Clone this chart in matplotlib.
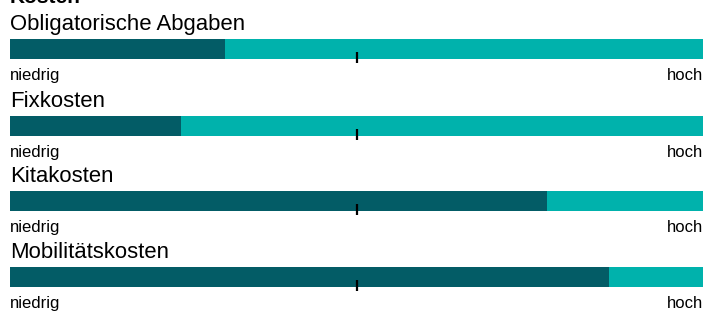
import matplotlib
matplotlib.use("Agg")
import matplotlib.pyplot as plt

plt.rcParams['font.family'] = ['Liberation Sans', 'DejaVu Sans']

title = "Kosten"
categories = ["Obligatorische Abgaben", "Fixkosten", "Kitakosten", "Mobilitätskosten"]
values = [0.31, 0.247, 0.775, 0.864]
medians = [0.5, 0.5, 0.5, 0.5]
low_label = "niedrig"
high_label = "hoch"

DARK = "#035c66"
LIGHT = "#00b2ac"

W, H = 704, 311
fig = plt.figure(figsize=(W / 100, H / 100), dpi=100)

bar_tops = [39, 116, 191, 267]
bar_h = 20
left_px, width_px = 10, 693

fig.text(left_px / W, 1 - 3 / H, title, fontsize=15, fontweight='bold',
         va='baseline', ha='left')

for cat, val, med, top in zip(categories, values, medians, bar_tops):
    ax = fig.add_axes([left_px / W, 1 - (top + bar_h) / H, width_px / W, bar_h / H])
    ax.set_xlim(0, 1)
    ax.set_ylim(0, 1)
    ax.axis('off')
    ax.barh(0.5, val, height=1, left=0, color=DARK, linewidth=0)
    ax.barh(0.5, 1 - val, height=1, left=val, color=LIGHT, linewidth=0)
    ax.plot([med, med], [-0.22, 0.35], color='black', linewidth=1.6,
            solid_capstyle='butt', clip_on=False)
    fig.text(left_px / W, 1 - (top - 9) / H, cat, fontsize=15.9,
             va='baseline', ha='left')
    fig.text(left_px / W, 1 - (top + bar_h + 21) / H, low_label, fontsize=12,
             va='baseline', ha='left')
    fig.text((left_px + width_px) / W, 1 - (top + bar_h + 21) / H, high_label,
             fontsize=12, va='baseline', ha='right')

fig.savefig("out.png", dpi=100)
